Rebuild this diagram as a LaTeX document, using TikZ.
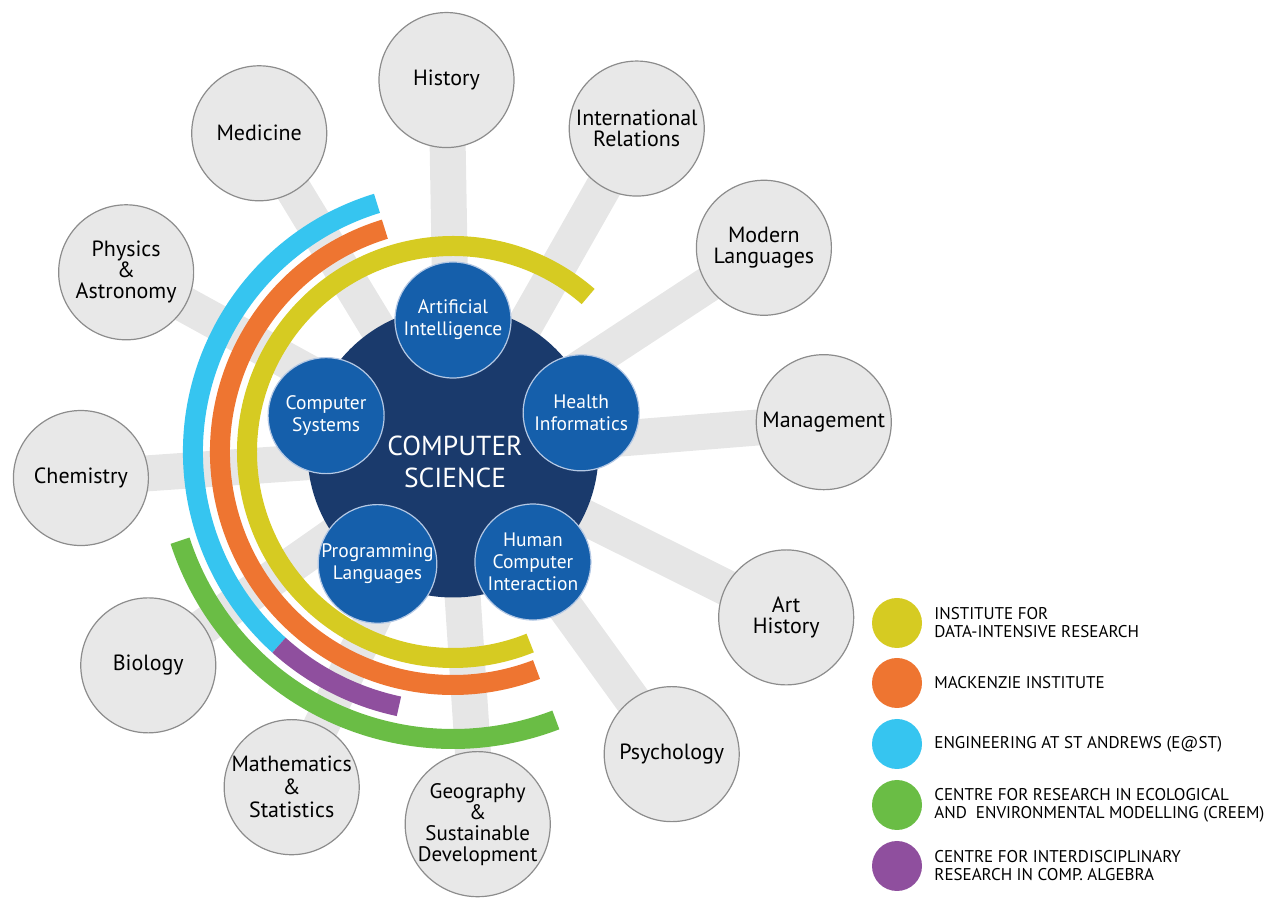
\documentclass[tikz,border=0pt]{standalone}
\usepackage{fontspec}
\setmainfont{PT Sans}
\usetikzlibrary{backgrounds}
\usetikzlibrary{positioning}

\definecolor{spokegray}{HTML}{E6E6E6}
\definecolor{deptfill}{HTML}{E8E8E8}
\definecolor{deptline}{HTML}{8C8C8C}
\definecolor{csnavy}{HTML}{1A3A6C}
\definecolor{areablue}{HTML}{155FAB}
\definecolor{arearim}{HTML}{B4C8E4}
\definecolor{idryellow}{HTML}{D6CB22}
\definecolor{mackorange}{HTML}{EE7531}
\definecolor{eastblue}{HTML}{36C5F0}
\definecolor{creemgreen}{HTML}{6ABD45}
\definecolor{ciraapurple}{HTML}{8F4F9E}

\tikzset{
  dept/.style={circle, draw=deptline, line width=1.2pt, fill=deptfill,
    minimum size=135pt, inner sep=0pt, align=center,
    font=\fontsize{22}{21}\selectfont},
  area/.style={circle, draw=arearim, line width=1.2pt, fill=areablue,
    minimum size=116pt, inner sep=0pt, align=center, text=white,
    font=\fontsize{19.5}{22}\selectfont},
  spoke/.style={spokegray, line width=36pt},
  band/.style={line width=20pt},
  key/.style={circle, minimum size=50pt, inner sep=0pt},
  keytext/.style={inner sep=0pt, align=left, text=black,
    font=\fontsize{17}{18}\selectfont}
}

\begin{document}
\begin{tikzpicture}[x=1pt, y=1pt]
    \useasboundingbox (-453, 452) rectangle (827, -449);
    % core and research areas
    \node [circle, fill=csnavy, minimum size=291pt, inner sep=0pt] (cs) at (0, 0) {};
    \node [text=white, align=center, font=\fontsize{27.5}{32}\selectfont] (cslabel) at (2, -10) {COMPUTER\\SCIENCE};
    \node [area] (ai) at (90:132) {Artificial\\Intelligence};
    \node [area] (hinf) at (17:134) {Health\\Informatics};
    \node [area] (hci) at (-54:136) {Human\\Computer\\Interaction};
    \node [area] (plang) at (-124:135) {Programming\\Languages};
    \node [area] (csys) at (164:132) {Computer\\Systems};
    % departments
    \node [dept] (hist) at (91:372) {History};
    \node [dept] (intrel) at (60.4:372) {International\\Relations};
    \node [dept] (modlang) at (33.3:372) {Modern\\Languages};
    \node [dept] (mgmt) at (4.6:372) {Management};
    \node [dept] (arthist) at (-26.4:372) {Art\\History};
    \node [dept] (psych) at (-54.1:373) {Psychology};
    \node [dept, font=\fontsize{21}{21}\selectfont] (geog) at (-86.2:373) {Geography\\\&\\Sustainable\\Development};
    \node [dept, font=\fontsize{22}{23}\selectfont] (maths) at (-115.7:372) {Mathematics\\\&\\Statistics};
    \node [dept] (bio) at (-145:372) {Biology};
    \node [dept] (chem) at (-176:373) {Chemistry};
    \node [dept] (phys) at (151.2:373) {Physics\\\&\\Astronomy};
    \node [dept] (med) at (121.3:373) {Medicine};
    \begin{scope}[on background layer]
        \foreach \d in {hist, intrel, modlang, mgmt, arthist, psych, geog, maths, bio, chem, phys, med}
            \draw [spoke] (cs.center) -- (\d.center);
    \end{scope}
    % institute bands
    \draw [band, idryellow] (cs.center) ++(49:206pt) arc [start angle=49, end angle=292, radius=206pt];
    \draw [band, mackorange] (cs.center) ++(107:233pt) arc [start angle=107, end angle=291, radius=233pt];
    \draw [band, eastblue] (cs.center) ++(107:260pt) arc [start angle=107, end angle=228, radius=260pt];
    \draw [band, ciraapurple] (cs.center) ++(228:260pt) arc [start angle=228, end angle=258, radius=260pt];
    \draw [band, creemgreen] (cs.center) ++(198:287pt) arc [start angle=198, end angle=291, radius=287pt];
    % key
    \node [key, fill=idryellow] (kidr) at (444, -171) {};
    \node [key, fill=mackorange] (kmack) at (444, -231) {};
    \node [key, fill=eastblue] (keast) at (444, -292) {};
    \node [key, fill=creemgreen] (kcreem) at (444, -353) {};
    \node [key, fill=ciraapurple] (kciraa) at (444, -414) {};
    \node [keytext, right=12pt of kidr] (tidr) {INSTITUTE FOR\\DATA-INTENSIVE RESEARCH};
    \node [keytext, right=12pt of kmack] (tmack) {MACKENZIE INSTITUTE};
    \node [keytext, right=12pt of keast] (teast) {ENGINEERING AT ST ANDREWS (E@ST)};
    \node [keytext, right=12pt of kcreem] (tcreem) {CENTRE FOR RESEARCH IN ECOLOGICAL\\AND~ ENVIRONMENTAL MODELLING (CREEM)};
    \node [keytext, right=12pt of kciraa] (tciraa) {CENTRE FOR INTERDISCIPLINARY\\RESEARCH IN COMP. ALGEBRA};
\end{tikzpicture}
\end{document}
